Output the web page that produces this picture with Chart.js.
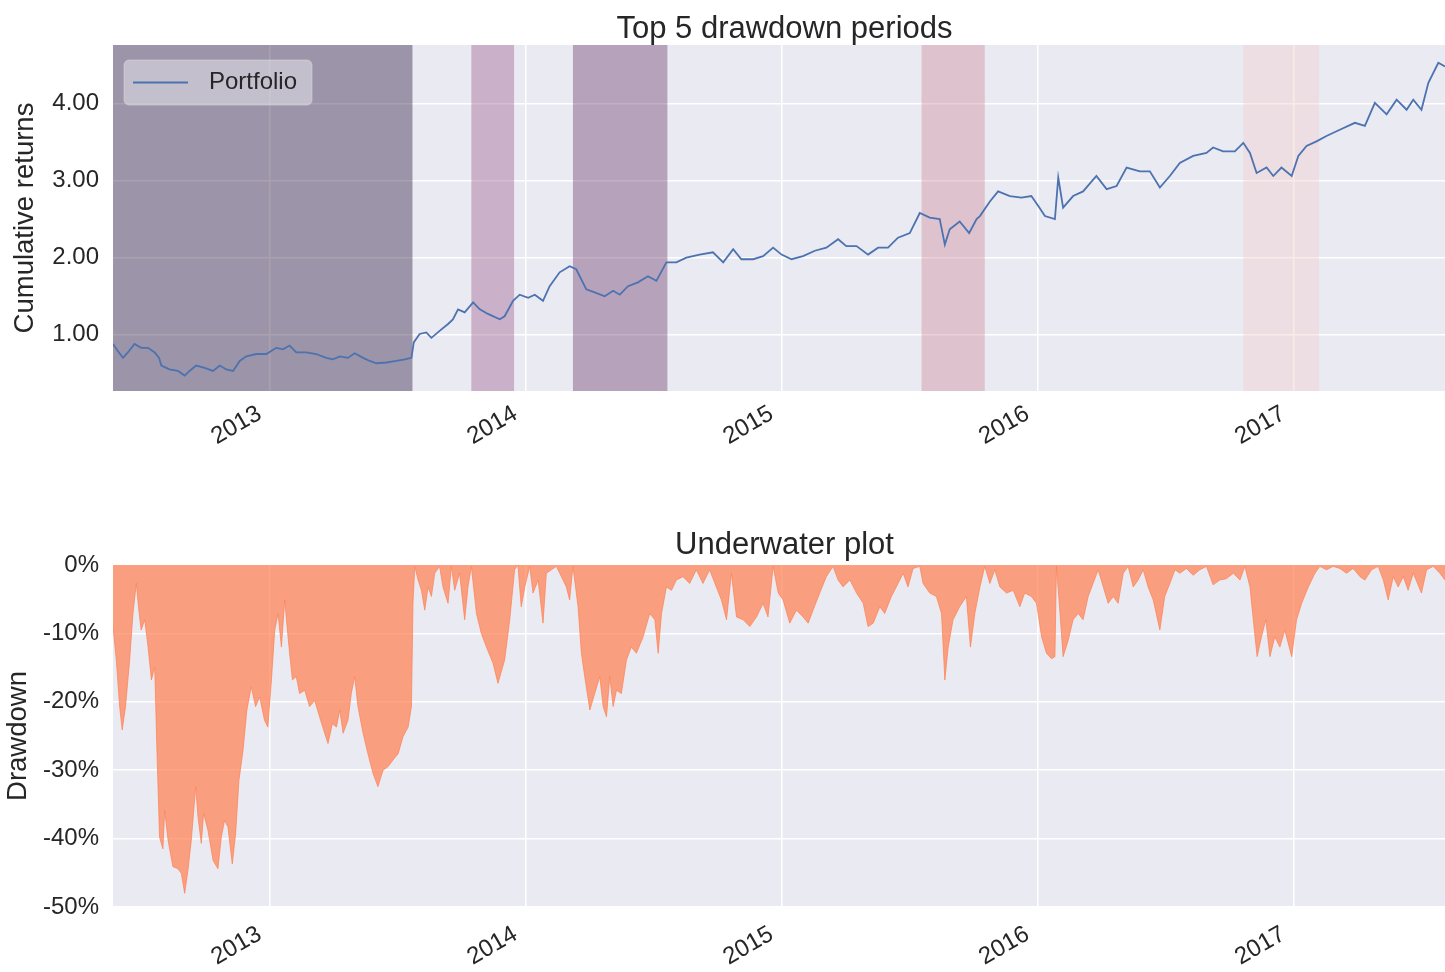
<!DOCTYPE html>
<html lang="en">
<head>
<meta charset="UTF-8">
<title>Top 5 drawdown periods</title>
<script src="https://cdn.jsdelivr.net/npm/chart.js@4.4.1/dist/chart.umd.min.js"></script>
<style>
  body { margin: 0; background: #fff; overflow: hidden; }
  #wrap { position: relative; width: 1445px; height: 972px; overflow: hidden; }
  #wrap canvas { position: absolute; left: 0; }
</style>
</head>
<body>
<div id="wrap">
  <!-- the axes run a little past the right edge of the picture, as in the original -->
  <canvas id="cumChart" width="1456" height="470" style="top:0"></canvas>
  <canvas id="ddChart" width="1456" height="502" style="top:470px"></canvas>
</div>
<script>
// x values are decimal years
const yearTicks = [2013, 2014, 2015, 2016, 2017];
const xEnd = 2017.635;
const cumTicks = [1, 2, 3, 4];
const ddTicks = [0, -10, -20, -30, -40, -50];

const cumDates = [
  2012.388, 2012.407, 2012.427, 2012.446, 2012.472, 2012.498, 2012.525, 2012.551, 2012.568, 2012.577,
  2012.609, 2012.642, 2012.668, 2012.687, 2012.713, 2012.746, 2012.779, 2012.805, 2012.831, 2012.857,
  2012.883, 2012.909, 2012.948, 2012.987, 2013.026, 2013.052, 2013.078, 2013.104, 2013.143, 2013.182,
  2013.221, 2013.247, 2013.274, 2013.306, 2013.332, 2013.365, 2013.391, 2013.417, 2013.456, 2013.495,
  2013.528, 2013.554, 2013.563, 2013.586, 2013.612, 2013.632, 2013.664, 2013.697, 2013.716, 2013.736,
  2013.762, 2013.795, 2013.821, 2013.853, 2013.899, 2013.918, 2013.951, 2013.977, 2014.010, 2014.036,
  2014.068, 2014.094, 2014.133, 2014.172, 2014.198, 2014.237, 2014.270, 2014.309, 2014.342, 2014.368,
  2014.400, 2014.439, 2014.478, 2014.511, 2014.550, 2014.589, 2014.628, 2014.680, 2014.732, 2014.772,
  2014.811, 2014.843, 2014.889, 2014.928, 2014.967, 2015.000, 2015.039, 2015.084, 2015.130, 2015.175,
  2015.221, 2015.253, 2015.293, 2015.338, 2015.377, 2015.416, 2015.455, 2015.501, 2015.540, 2015.579,
  2015.618, 2015.638, 2015.657, 2015.696, 2015.733, 2015.762, 2015.775, 2015.814, 2015.846, 2015.892,
  2015.937, 2015.976, 2016.003, 2016.029, 2016.068, 2016.081, 2016.100, 2016.139, 2016.178, 2016.230,
  2016.270, 2016.309, 2016.348, 2016.400, 2016.439, 2016.478, 2016.517, 2016.556, 2016.608, 2016.660,
  2016.686, 2016.725, 2016.771, 2016.804, 2016.830, 2016.856, 2016.895, 2016.921, 2016.953, 2016.993,
  2017.019, 2017.051, 2017.090, 2017.129, 2017.181, 2017.240, 2017.279, 2017.318, 2017.364, 2017.403,
  2017.442, 2017.468, 2017.500, 2017.527, 2017.566, 2017.592
];
const cumValues = [
  0.88, 0.79, 0.70, 0.77, 0.88, 0.83, 0.83, 0.77, 0.70, 0.60,
  0.55, 0.53, 0.47, 0.53, 0.60, 0.57, 0.53, 0.60, 0.55, 0.53,
  0.66, 0.72, 0.75, 0.75, 0.83, 0.81, 0.86, 0.77, 0.77, 0.75,
  0.70, 0.68, 0.72, 0.70, 0.76, 0.70, 0.66, 0.63, 0.64, 0.66,
  0.68, 0.70, 0.90, 1.01, 1.03, 0.96, 1.05, 1.14, 1.20, 1.33,
  1.29, 1.42, 1.33, 1.27, 1.20, 1.24, 1.44, 1.52, 1.48, 1.52,
  1.44, 1.63, 1.81, 1.89, 1.85, 1.59, 1.55, 1.50, 1.57, 1.52,
  1.63, 1.68, 1.76, 1.70, 1.94, 1.94, 2.00, 2.04, 2.07, 1.94,
  2.11, 1.98, 1.98, 2.02, 2.13, 2.04, 1.98, 2.02, 2.09, 2.13,
  2.24, 2.15, 2.15, 2.04, 2.13, 2.13, 2.26, 2.32, 2.58, 2.52,
  2.50, 2.17, 2.37, 2.47, 2.32, 2.50, 2.54, 2.73, 2.86, 2.80,
  2.78, 2.80, 2.67, 2.54, 2.50, 3.04, 2.65, 2.80, 2.86, 3.06,
  2.89, 2.93, 3.17, 3.12, 3.12, 2.91, 3.06, 3.23, 3.32, 3.36,
  3.43, 3.38, 3.38, 3.49, 3.36, 3.10, 3.17, 3.06, 3.17, 3.06,
  3.32, 3.45, 3.51, 3.58, 3.66, 3.75, 3.71, 4.01, 3.86, 4.05,
  3.92, 4.05, 3.92, 4.27, 4.53, 4.48
];

// drawdown in percent
const ddDates = [
  2012.388, 2012.401, 2012.414, 2012.424, 2012.437, 2012.453, 2012.466, 2012.479, 2012.489, 2012.498,
  2012.512, 2012.525, 2012.538, 2012.551, 2012.560, 2012.570, 2012.583, 2012.590, 2012.603, 2012.622,
  2012.642, 2012.655, 2012.668, 2012.681, 2012.694, 2012.711, 2012.720, 2012.733, 2012.742, 2012.759,
  2012.779, 2012.798, 2012.811, 2012.824, 2012.837, 2012.854, 2012.867, 2012.880, 2012.896, 2012.911,
  2012.928, 2012.945, 2012.961, 2012.980, 2012.993, 2013.007, 2013.020, 2013.033, 2013.046, 2013.059,
  2013.068, 2013.078, 2013.089, 2013.104, 2013.117, 2013.137, 2013.156, 2013.176, 2013.195, 2013.215,
  2013.228, 2013.245, 2013.261, 2013.274, 2013.287, 2013.306, 2013.319, 2013.332, 2013.345, 2013.365,
  2013.384, 2013.404, 2013.423, 2013.443, 2013.462, 2013.482, 2013.502, 2013.521, 2013.541, 2013.554,
  2013.560, 2013.567, 2013.580, 2013.593, 2013.606, 2013.619, 2013.632, 2013.645, 2013.664, 2013.677,
  2013.697, 2013.710, 2013.723, 2013.742, 2013.762, 2013.775, 2013.788, 2013.808, 2013.827, 2013.847,
  2013.873, 2013.892, 2013.918, 2013.938, 2013.957, 2013.970, 2013.983, 2013.997, 2014.016, 2014.029,
  2014.049, 2014.068, 2014.081, 2014.101, 2014.120, 2014.140, 2014.159, 2014.172, 2014.185, 2014.205,
  2014.218, 2014.231, 2014.251, 2014.270, 2014.290, 2014.303, 2014.316, 2014.329, 2014.342, 2014.355,
  2014.374, 2014.394, 2014.413, 2014.433, 2014.459, 2014.485, 2014.505, 2014.518, 2014.531, 2014.550,
  2014.570, 2014.589, 2014.615, 2014.641, 2014.667, 2014.693, 2014.719, 2014.745, 2014.765, 2014.785,
  2014.804, 2014.824, 2014.850, 2014.876, 2014.902, 2014.928, 2014.947, 2014.967, 2014.987, 2015.006,
  2015.032, 2015.058, 2015.084, 2015.104, 2015.123, 2015.149, 2015.175, 2015.201, 2015.221, 2015.240,
  2015.267, 2015.293, 2015.319, 2015.338, 2015.358, 2015.384, 2015.403, 2015.429, 2015.455, 2015.475,
  2015.494, 2015.514, 2015.540, 2015.553, 2015.579, 2015.605, 2015.625, 2015.638, 2015.651, 2015.670,
  2015.696, 2015.722, 2015.738, 2015.755, 2015.775, 2015.794, 2015.814, 2015.833, 2015.853, 2015.879,
  2015.905, 2015.931, 2015.950, 2015.976, 2015.996, 2016.016, 2016.035, 2016.055, 2016.068, 2016.074,
  2016.085, 2016.100, 2016.120, 2016.139, 2016.159, 2016.178, 2016.198, 2016.217, 2016.237, 2016.257,
  2016.276, 2016.296, 2016.315, 2016.335, 2016.354, 2016.374, 2016.393, 2016.413, 2016.432, 2016.452,
  2016.478, 2016.497, 2016.517, 2016.537, 2016.556, 2016.582, 2016.608, 2016.634, 2016.660, 2016.686,
  2016.712, 2016.738, 2016.765, 2016.791, 2016.810, 2016.830, 2016.843, 2016.858, 2016.875, 2016.892,
  2016.908, 2016.927, 2016.947, 2016.966, 2016.993, 2017.012, 2017.032, 2017.058, 2017.084, 2017.103,
  2017.129, 2017.155, 2017.181, 2017.207, 2017.233, 2017.260, 2017.279, 2017.305, 2017.331, 2017.351,
  2017.370, 2017.390, 2017.409, 2017.429, 2017.448, 2017.468, 2017.500, 2017.520, 2017.546, 2017.572,
  2017.592
];
const ddValues = [
  -9.0, -13.9, -20.7, -24.1, -20.7, -13.9, -7.1, -2.7, -6.6, -9.5,
  -8.0, -12.0, -16.8, -14.9, -27.6, -39.8, -41.5, -35.9, -40.2, -44.1,
  -44.4, -45.1, -48.0, -44.6, -40.2, -32.4, -36.8, -40.7, -36.3, -38.8,
  -43.2, -44.4, -39.8, -37.3, -38.3, -43.7, -39.3, -31.5, -27.1, -21.2,
  -17.8, -20.7, -19.3, -22.7, -23.7, -16.8, -9.5, -7.1, -12.0, -5.1,
  -9.0, -12.9, -16.8, -16.3, -18.8, -18.3, -20.7, -19.8, -22.2, -24.6,
  -26.1, -23.2, -23.7, -21.2, -24.6, -22.7, -18.8, -16.3, -20.7, -24.6,
  -27.6, -30.5, -32.4, -30.0, -29.5, -28.5, -27.6, -25.1, -23.7, -20.7,
  -5.6, -0.2, -2.2, -3.7, -6.6, -3.2, -4.6, -1.2, -0.2, -3.2,
  -5.6, -0.2, -3.7, -1.2, -8.0, -3.2, -0.2, -7.1, -10.0, -12.0,
  -14.4, -17.3, -13.9, -8.0, -0.7, 0.0, -6.1, -3.2, -0.2, -4.1,
  -2.2, -8.5, -1.2, -0.7, -0.2, -1.7, -3.2, -5.1, -0.2, -6.1,
  -12.9, -16.3, -21.2, -18.8, -16.3, -20.7, -22.2, -16.3, -20.7, -18.3,
  -18.8, -13.9, -12.0, -12.9, -10.5, -7.1, -8.0, -12.9, -7.1, -3.2,
  -3.7, -2.2, -1.7, -2.7, -0.7, -2.7, -0.7, -3.2, -5.1, -8.0,
  -1.2, -7.6, -8.0, -9.0, -7.6, -5.6, -7.6, -0.2, -4.1, -5.1,
  -8.5, -6.6, -7.6, -8.5, -6.6, -4.1, -1.7, -0.2, -2.2, -3.2,
  -2.2, -4.1, -5.6, -9.0, -8.5, -6.1, -7.1, -4.6, -2.7, -1.2,
  -3.2, -0.5, -0.2, -2.7, -4.1, -4.6, -7.1, -16.8, -12.0, -8.0,
  -6.1, -4.6, -12.0, -7.1, -3.2, -0.2, -2.7, -0.7, -3.2, -4.1,
  -3.7, -6.1, -4.1, -4.6, -5.6, -10.5, -12.9, -13.7, -13.4, -0.2,
  -5.6, -13.4, -11.0, -8.0, -7.1, -8.0, -4.6, -2.7, -0.7, -3.2,
  -5.6, -4.6, -5.6, -1.2, -0.2, -3.2, -2.2, -0.7, -3.2, -5.1,
  -9.5, -4.6, -2.7, -0.7, -1.2, -0.5, -1.5, -0.7, -0.2, -2.9,
  -2.2, -2.0, -1.2, -2.2, -0.2, -3.2, -8.0, -13.4, -10.5, -8.0,
  -13.4, -10.5, -12.0, -9.5, -13.4, -8.0, -5.6, -3.2, -1.2, -0.2,
  -0.7, -0.2, -0.5, -1.2, -0.5, -1.7, -2.2, -0.7, -0.2, -2.2,
  -5.1, -1.7, -3.2, -1.7, -3.7, -1.2, -4.1, -0.7, -0.2, -1.2,
  -2.2
];

// top 5 drawdown periods (peak -> recovery)
const periodStart = [2012.388, 2013.788, 2014.185, 2015.547, 2016.804];
const periodEnd = [2013.558, 2013.955, 2014.554, 2015.794, 2017.100];
const periodColors = [
  'rgba(39, 19, 57, 0.4)',
  'rgba(156, 89, 137, 0.4)',
  'rgba(107, 56, 107, 0.4)',
  'rgba(206, 137, 154, 0.4)',
  'rgba(239, 206, 202, 0.4)'
];

Chart.defaults.font.family = "'Liberation Sans', Arial, sans-serif";
Chart.defaults.color = '#262626';

const plotBg = {
  id: 'plotBg',
  beforeDraw(chart) {
    const { ctx, chartArea: a } = chart;
    ctx.save();
    ctx.fillStyle = '#eaeaf2';
    ctx.fillRect(a.left, a.top, a.right - a.left, a.bottom - a.top);
    ctx.restore();
  }
};

const drawdownShading = {
  id: 'drawdownShading',
  beforeDatasetsDraw(chart) {
    const { ctx, chartArea: a, scales: { x } } = chart;
    ctx.save();
    periodStart.forEach((s, i) => {
      const x0 = Math.max(x.getPixelForValue(s), a.left);
      const x1 = Math.min(x.getPixelForValue(periodEnd[i]), a.right);
      ctx.fillStyle = periodColors[i];
      ctx.fillRect(x0, a.top, x1 - x0, a.bottom - a.top);
    });
    ctx.restore();
  }
};

// legend box in the upper left corner, like matplotlib's
const legendBox = {
  id: 'legendBox',
  afterDatasetsDraw(chart) {
    const { ctx, chartArea: a } = chart;
    const ds = chart.data.datasets[0];
    const x = a.left + 11, y = a.top + 15, w = 188, h = 45;
    ctx.save();
    ctx.beginPath();
    ctx.roundRect(x, y, w, h, 5);
    ctx.fillStyle = 'rgba(234, 234, 242, 0.5)';
    ctx.fill();
    ctx.strokeStyle = 'rgba(220, 220, 228, 0.5)';
    ctx.lineWidth = 1;
    ctx.stroke();
    ctx.beginPath();
    ctx.moveTo(x + 9, y + h / 2);
    ctx.lineTo(x + 64, y + h / 2);
    ctx.strokeStyle = ds.borderColor;
    ctx.lineWidth = ds.borderWidth;
    ctx.stroke();
    ctx.fillStyle = '#262626';
    ctx.font = "24px 'Liberation Sans', Arial, sans-serif";
    ctx.textBaseline = 'middle';
    ctx.fillText(ds.label, x + 85, y + h / 2);
    ctx.restore();
  }
};

const tickFont = { size: 24 };
const gridOpts = { color: '#ffffff', lineWidth: 1.5, drawTicks: false };

function yearAxis(axisHeight, pad) {
  return {
    type: 'linear',
    min: cumDates[0],
    max: xEnd,
    afterBuildTicks: s => { s.ticks = yearTicks.map(v => ({ value: v })); },
    afterFit: s => { s.height = axisHeight; },
    grid: gridOpts,
    border: { display: false },
    ticks: {
      autoSkip: false,
      minRotation: 30,
      maxRotation: 30,
      padding: pad,
      labelOffset: -10,
      font: tickFont,
      callback: v => String(v)
    }
  };
}

function titleOpts(text, top, bottom) {
  return {
    display: true,
    fullSize: false,
    text: text,
    font: { size: 31, weight: 'normal', lineHeight: 1.0 },
    padding: { top: top, bottom: bottom }
  };
}

new Chart(document.getElementById('cumChart'), {
  type: 'line',
  data: {
    datasets: [{
      label: 'Portfolio',
      data: cumDates.map((d, i) => ({ x: d, y: cumValues[i] })),
      borderColor: '#4c72b0',
      borderWidth: 1.8,
      pointRadius: 0,
      tension: 0
    }]
  },
  options: {
    responsive: false,
    animation: false,
    devicePixelRatio: 1,
    layout: { padding: 0 },
    plugins: {
      legend: { display: false },
      tooltip: { enabled: false },
      title: titleOpts('Top 5 drawdown periods', 13.5, 0.5)
    },
    scales: {
      x: yearAxis(79, 8.5),
      y: {
        min: 0.27,
        max: 4.76,
        afterBuildTicks: s => { s.ticks = cumTicks.map(v => ({ value: v })); },
        afterFit: s => { s.width = 113; },
        grid: gridOpts,
        border: { display: false },
        ticks: { padding: 14, font: tickFont, callback: v => v.toFixed(2) },
        title: {
          display: true,
          text: 'Cumulative returns',
          font: { size: 27.5 },
          padding: { top: 9, bottom: 0 }
        }
      }
    }
  },
  plugins: [plotBg, drawdownShading, legendBox]
});

new Chart(document.getElementById('ddChart'), {
  type: 'line',
  data: {
    datasets: [{
      label: 'Drawdown',
      data: ddDates.map((d, i) => ({ x: d, y: ddValues[i] })),
      borderColor: 'rgba(255, 127, 80, 0.7)',
      backgroundColor: 'rgba(255, 127, 80, 0.7)',
      borderWidth: 1,
      pointRadius: 0,
      tension: 0,
      fill: 'origin'
    }]
  },
  options: {
    responsive: false,
    animation: false,
    devicePixelRatio: 1,
    layout: { padding: 0 },
    plugins: {
      legend: { display: false },
      tooltip: { enabled: false },
      title: titleOpts('Underwater plot', 59.5, 4.5)
    },
    scales: {
      x: yearAxis(65, 13),
      y: {
        min: -50,
        max: 0,
        afterBuildTicks: s => { s.ticks = ddTicks.map(v => ({ value: v })); },
        afterFit: s => { s.width = 113; },
        grid: gridOpts,
        border: { display: false },
        ticks: { padding: 14, font: tickFont, callback: v => v + '%' },
        title: {
          display: true,
          text: 'Drawdown',
          font: { size: 27.5 },
          padding: { top: 1.5, bottom: 0 }
        }
      }
    }
  },
  plugins: [plotBg]
});
</script>
</body>
</html>
